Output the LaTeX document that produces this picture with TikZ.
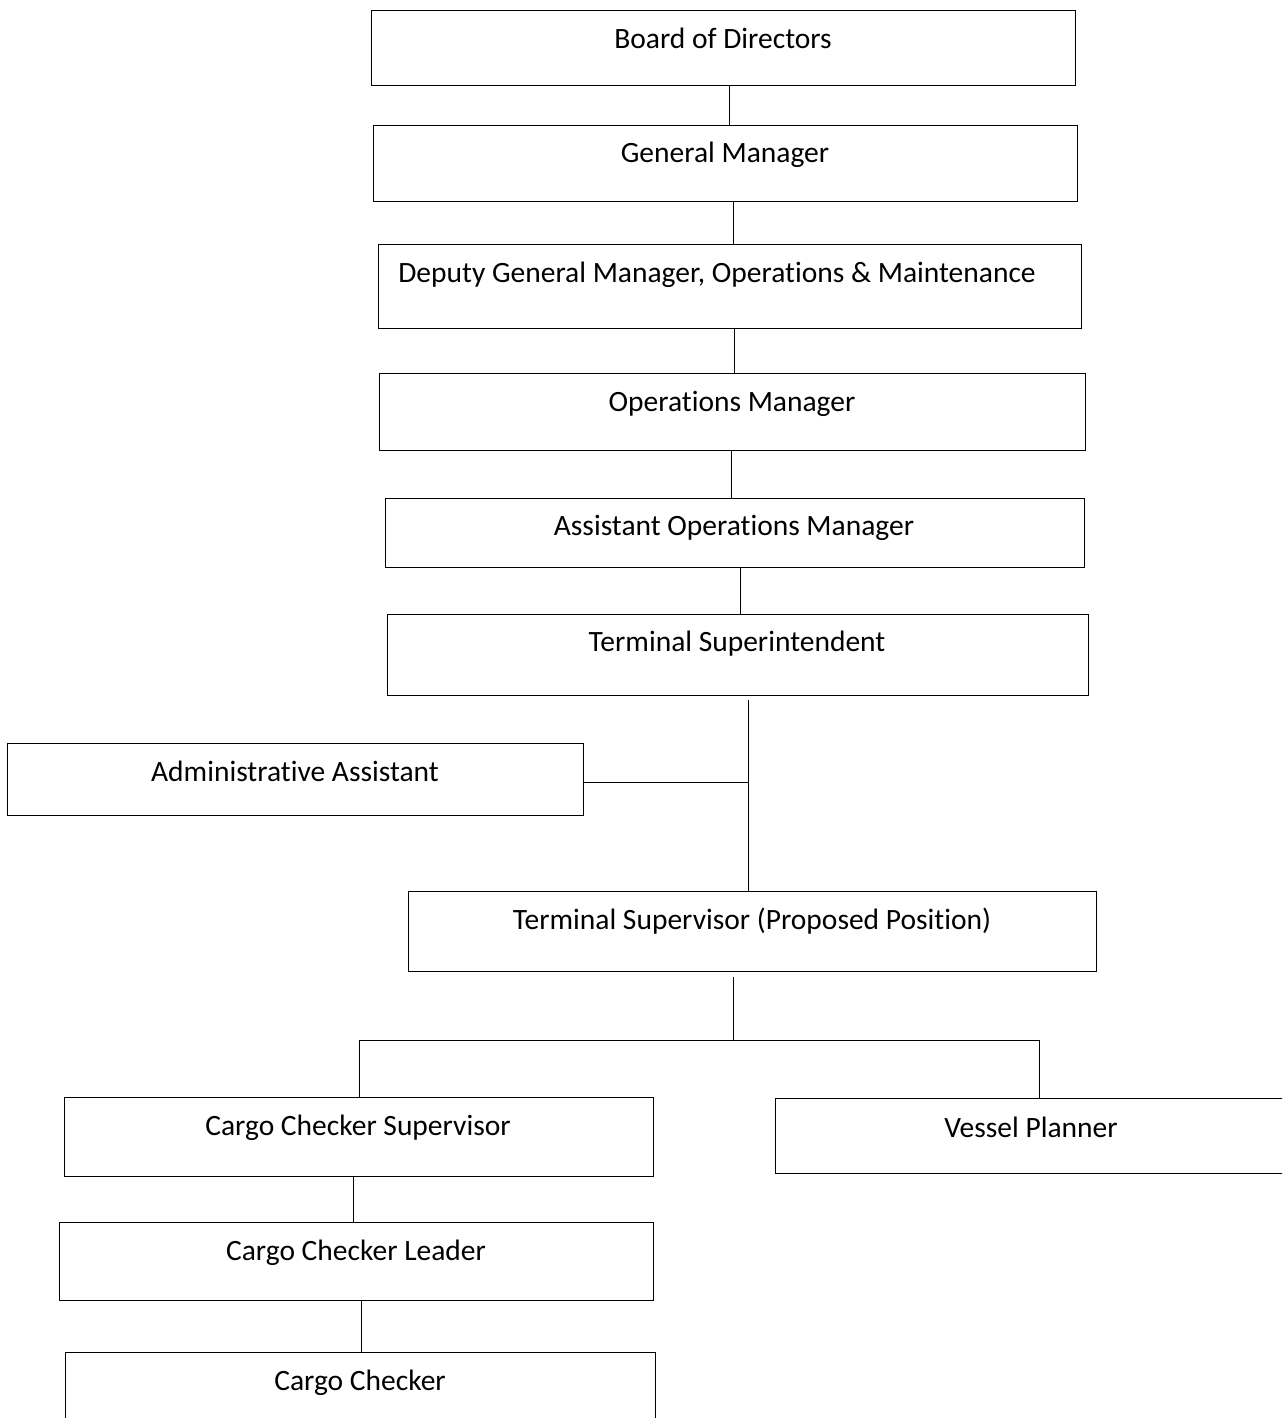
\documentclass[tikz,border=0pt]{standalone}
\usepackage{fontspec}
\setmainfont[Ligatures=NoCommon]{Carlito}
\begin{document}
\begin{tikzpicture}[x=1pt,y=-1pt,
  orgbox/.style={draw=black,line width=1.3pt,inner sep=0pt,anchor=north west},
  orgtext/.style={anchor=base,inner sep=0pt,font=\fontsize{29.5}{33}\selectfont},
  link/.style={draw=black,line width=0.8pt}]
\useasboundingbox (0,0) rectangle (1282,1418);
\clip (0,0) rectangle (1282,1418);
\newcommand{\orgunit}[8]{%
  \node[orgbox,minimum width={(#4-#2)*1pt},minimum height={(#5-#3)*1pt}] (#1) at (#2,#3) {};
  \node[orgtext] (#1-t) at (#7,#8+10) {#6};}
\orgunit{bod}{371}{10}{1075}{85}{Board of Directors}{723}{39}
\orgunit{gm}{373}{125}{1077}{201}{General Manager}{725}{152}
\orgunit{dgm}{378}{244}{1081}{328}{Deputy General Manager, Operations \& Maintenance}{717}{272}
\orgunit{om}{379}{373}{1085}{450}{Operations Manager}{732}{401}
\orgunit{aom}{385}{498}{1084}{567}{Assistant Operations Manager}{734}{525}
\orgunit{ts}{387}{614}{1088}{695}{Terminal Superintendent}{737}{641}
\orgunit{aa}{7}{743}{583}{815}{Administrative Assistant}{295}{771}
\orgunit{tsup}{408}{891}{1096}{971}{Terminal Supervisor (Proposed Position)}{752}{919}
\orgunit{ccs}{64}{1097}{653}{1176}{Cargo Checker Supervisor}{358}{1125}
\orgunit{vp}{775}{1098}{1300}{1173}{Vessel Planner}{1031}{1127}
\orgunit{ccl}{59}{1222}{653}{1300}{Cargo Checker Leader}{356}{1250}
\orgunit{cc}{65}{1352}{655}{1440}{Cargo Checker}{360}{1380}
\coordinate (tsj) at (748,782);
\coordinate (busm) at (733,1040);
\coordinate (busl) at (359,1040);
\coordinate (busr) at (1039,1040);
\draw[link] (bod.south -| 729,0) -- (gm.north -| 729,0);
\draw[link] (gm.south -| 733,0) -- (dgm.north -| 733,0);
\draw[link] (dgm.south -| 734,0) -- (om.north -| 734,0);
\draw[link] (om.south -| 731,0) -- (aom.north -| 731,0);
\draw[link] (aom.south -| 740,0) -- (ts.north -| 740,0);
\draw[link] (748,700) -- (tsup.north -| 748,0);
\draw[link] (aa.east |- tsj) -- (tsj);
\draw[link] (733,977) -- (busm);
\draw[link] (busl) -- (busr);
\draw[link] (busl) -- (ccs.north -| busl);
\draw[link] (busr) -- (vp.north -| busr);
\draw[link] (ccs.south -| 353,0) -- (ccl.north -| 353,0);
\draw[link] (ccl.south -| 361,0) -- (cc.north -| 361,0);
\end{tikzpicture}
\end{document}
